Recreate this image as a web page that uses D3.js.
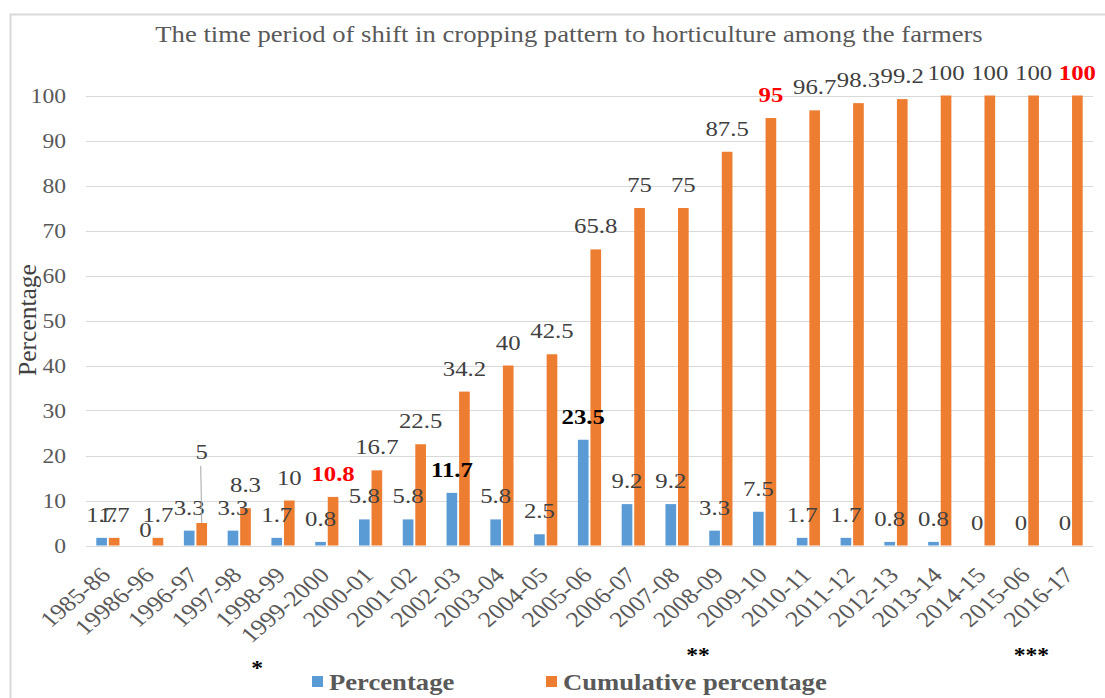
<!DOCTYPE html>
<html>
<head>
<meta charset="utf-8">
<script src="https://cdn.jsdelivr.net/npm/d3@7"></script>
<style>
  html, body { margin: 0; padding: 0; background: #fff; }
  svg { display: block; }
  svg text { font-family: "Liberation Serif", "Times New Roman", serif !important; }
</style>
</head>
<body>
<svg id="chart" width="1105" height="698"></svg>
<script>
const categories = ["1985-86","19986-96","1996-97","1997-98","1998-99","1999-2000","2000-01","2001-02","2002-03","2003-04","2004-05","2005-06","2006-07","2007-08","2008-09","2009-10","2010-11","2011-12","2012-13","2013-14","2014-15","2015-06","2016-17"];
const percentage = [1.7,0,3.3,3.3,1.7,0.8,5.8,5.8,11.7,5.8,2.5,23.5,9.2,9.2,3.3,7.5,1.7,1.7,0.8,0.8,0,0,0];
const cumulative = [1.7,1.7,5,8.3,10,10.8,16.7,22.5,34.2,40,42.5,65.8,75,75,87.5,95,96.7,98.3,99.2,100,100,100,100];
const yTicks = [0,10,20,30,40,50,60,70,80,90,100];
const seriesNames = ["Percentage","Cumulative percentage"];
const boldPercentage = ["2002-03","2005-06"];
const redCumulative = ["1999-2000","2009-10","2016-17"];
const asteriskMarks = ["*","**","***"];
const asteriskCats = ["1997-98","2007-08","2015-06"];
const title = "The time period of shift in cropping pattern to horticulture among the farmers";

(function(){
const SX = 1.18; // horizontal stretch of the reference's lettering
const colors = {"Percentage":"#5B9BD5","Cumulative percentage":"#ED7D31"};
const svg = d3.select("#chart");

// outer border
svg.append("rect").attr("x",10.5).attr("y",14.5).attr("width",1110).attr("height",700)
  .attr("fill","none").attr("stroke","#D9D9D9").attr("stroke-width",2);

const pLeft = 86, pRight = 1093, pTop = 95.5, pBottom = 545.5;

const x0 = d3.scaleBand().domain(categories).range([pLeft,pRight]).paddingInner(0.47).paddingOuter(0.235);
const x1 = d3.scaleBand().domain(seriesNames).range([0,x0.bandwidth()]).paddingInner(0.15);
const y = d3.scaleLinear().domain([0,100]).range([pBottom,pTop]);
const cx0 = c => x0(c) + x0.bandwidth()/2;

function txt(parent, x, yy, s, size, opts) {
  opts = opts || {};
  return parent.append("text")
    .attr("transform", `translate(${x},${yy}) scale(${SX},1)` + (opts.rot ? ` rotate(${opts.rot})` : ""))
    .attr("text-anchor", opts.anchor || "middle")
    .attr("font-size", size)
    .attr("font-weight", opts.weight || "normal")
    .attr("fill", opts.fill || "#404040")
    .text(s);
}

// gridlines
svg.append("g").selectAll("line").data(yTicks).join("line")
  .attr("x1",pLeft).attr("x2",pRight)
  .attr("y1",d=>Math.round(y(d))+0.5).attr("y2",d=>Math.round(y(d))+0.5)
  .attr("stroke","#D9D9D9").attr("stroke-width",1.2);

// y axis labels
const yAxis = d3.axisLeft(y).tickValues(yTicks).tickSize(0).tickPadding(0);
const yg = svg.append("g").attr("transform",`translate(66,0)`).call(yAxis);
yg.select(".domain").remove();
yg.selectAll("text").attr("font-size",20).attr("fill","#595959")
  .attr("x",0).attr("dy","0.34em").attr("transform",`scale(${SX},1)`);

// x axis labels
const xAxis = d3.axisBottom(x0).tickSize(0).tickPadding(0);
const xg = svg.append("g").attr("transform",`translate(0,${pBottom})`).call(xAxis);
xg.select(".domain").remove();
xg.selectAll("text")
  .attr("font-size",22).attr("fill","#595959")
  .attr("text-anchor","end")
  .attr("x",0).attr("y",0).attr("dy",0)
  .attr("transform",`translate(4,31) scale(${SX},1) rotate(-45)`);

// bars
const rows = categories.map((c,i)=>({cat:c, vals:[{s:"Percentage",v:percentage[i]},{s:"Cumulative percentage",v:cumulative[i]}]}));
const groups = svg.append("g").selectAll("g").data(rows).join("g")
  .attr("transform",d=>`translate(${x0(d.cat)},0)`);
groups.selectAll("rect").data(d=>d.vals.filter(v=>v.v>0)).join("rect")
  .attr("x",d=>x1(d.s)).attr("width",x1.bandwidth())
  .attr("y",d=>y(d.v)).attr("height",d=>pBottom-y(d.v))
  .attr("fill",d=>colors[d.s]);

// data labels
const labG = svg.append("g");
rows.forEach(r=>{
  r.vals.forEach(v=>{
    const cx = x0(r.cat)+x1(v.s)+x1.bandwidth()/2;
    let by = y(v.v) - 16;
    let fill = "#404040", weight = "normal";
    if (v.s==="Percentage" && boldPercentage.includes(r.cat)) { fill="#000"; weight="bold"; }
    if (v.s==="Cumulative percentage" && redCumulative.includes(r.cat)) { fill="#FF0000"; weight="bold"; }
    if (v.s==="Percentage" && v.v===0 && r.cat==="19986-96") { by += 7; }
    if (v.s==="Cumulative percentage" && r.cat==="1996-97") {
      by = y(v.v) - 64;
      labG.append("line").attr("x1",cx-1).attr("x2",cx).attr("y1",by+7).attr("y2",y(v.v))
        .attr("stroke","#A6A6A6").attr("stroke-width",1);
    }
    txt(labG, cx, by, String(v.v), 21, {fill, weight});
  });
});

// title
txt(svg, 569, 42, title, 22.6, {fill:"#595959"});

// y axis title
svg.append("text").attr("transform","translate(36,320) rotate(-90)").attr("text-anchor","middle")
  .attr("font-size",25.5).attr("fill","#404040").text("Percentage");

// asterisks
const astOffsets = [18, 21, 4], astY = [675, 662, 662];
asteriskMarks.forEach((m,i)=>{
  txt(svg, cx0(asteriskCats[i]) + astOffsets[i], astY[i], m, 20, {fill:"#000", weight:"bold"});
});

// legend
const legendX = [312,546];
seriesNames.forEach((s,i)=>{
  svg.append("rect").attr("x",legendX[i]).attr("y",676).attr("width",11).attr("height",11).attr("fill",colors[s]);
  txt(svg, legendX[i]+17, 690, s, 22.6, {anchor:"start", weight:"bold", fill:"#595959"});
});
})();
</script>
</body>
</html>
